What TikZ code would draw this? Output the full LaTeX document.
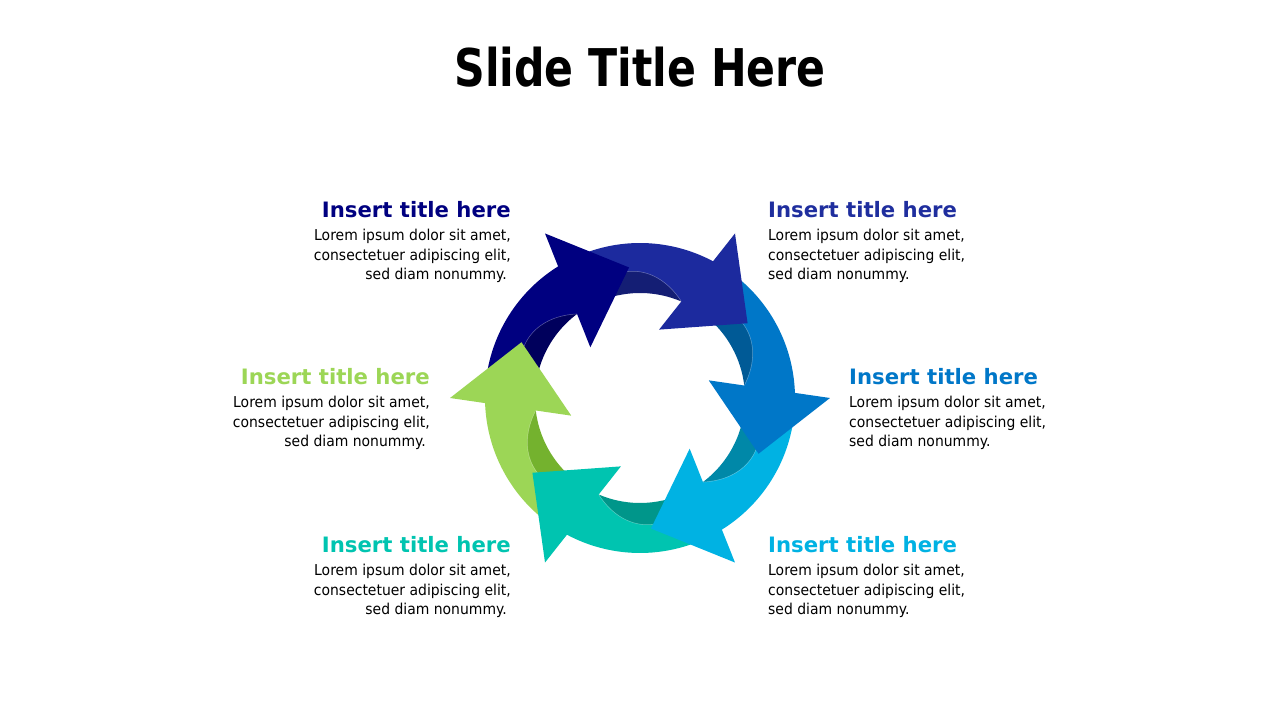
\documentclass[tikz,border=0pt]{standalone}
\usepackage{fontspec}
\newfontfamily\slidefont{DejaVu Sans}[FakeStretch=0.82]
\newfontfamily\headfont{DejaVu Sans}
\newfontfamily\bodyfont{DejaVu Sans}[FakeStretch=0.93]
\definecolor{navyL}{HTML}{000080}\definecolor{navyD}{HTML}{00005C}
\definecolor{blueL}{HTML}{1C2A9E}\definecolor{blueD}{HTML}{141E74}
\definecolor{mblueL}{HTML}{0077C8}\definecolor{mblueD}{HTML}{005A96}
\definecolor{cyanL}{HTML}{00B2E3}\definecolor{cyanD}{HTML}{0088A8}
\definecolor{tealL}{HTML}{00C4B0}\definecolor{tealD}{HTML}{00968A}
\definecolor{greenL}{HTML}{9CD656}\definecolor{greenD}{HTML}{74B22E}
\definecolor{blueT}{HTML}{1F2E9E}
\newcommand\arrDark[2]{%
  \begin{scope}[shift={(640,322)},rotate=#1]
    \fill[#2] (32:105) arc[start angle=32,end angle=76,radius=105] -- (76:135)
      arc[start angle=76,end angle=32,radius=135] -- cycle;
  \end{scope}}
\newcommand\arrBand[2]{%
  \begin{scope}[shift={(640,322)},rotate=#1]
    \fill[#2] (25:155) arc[start angle=25,end angle=78,radius=155] -- (78:127)
      -- plot[domain=78:32,samples=40,variable=\t] (\t:{105+22*sin(min((\t-32)*3.2,90))})
      -- (25:105) -- cycle;
    \draw[white,opacity=.35,line width=.5pt] plot[domain=32:62,samples=30,variable=\t] (\t:{105+22*sin(min((\t-32)*3.2,90))});
  \end{scope}}
\newcommand\arrHead[2]{%
  \begin{scope}[shift={(640,322)},rotate=#1]
    \fill[#2] (0:131) -- (25.2:190) -- (39.6:71) -- cycle;
  \end{scope}}
\tikzset{
  headtxt/.style={font=\headfont\bfseries\fontsize{21.2}{25}\selectfont, inner sep=0pt},
  bodytxt/.style={font=\bodyfont\fontsize{15}{19}\selectfont, inner sep=0pt, text=black},
}
\begin{document}
\begin{tikzpicture}[x=1pt,y=1pt]
\fill[white] (0,0) rectangle (1280,720);
\useasboundingbox (0,0) rectangle (1280,720);
% title
\node[font=\slidefont\bfseries\fontsize{52}{60}\selectfont, inner sep=0pt, anchor=base] (title) at (640,633) {Slide Title Here};
% arrows: dark inner strips, bands, heads
\arrDark{94.8}{navyD}\arrDark{34.8}{blueD}\arrDark{-25.2}{mblueD}
\arrDark{-85.2}{cyanD}\arrDark{-145.2}{tealD}\arrDark{154.8}{greenD}
\arrBand{94.8}{navyL}\arrBand{34.8}{blueL}\arrBand{-25.2}{mblueL}
\arrBand{-85.2}{cyanL}\arrBand{-145.2}{tealL}\arrBand{154.8}{greenL}
\arrHead{94.8}{navyL}\arrHead{34.8}{blueL}\arrHead{-25.2}{mblueL}
\arrHead{-85.2}{cyanL}\arrHead{-145.2}{tealL}\arrHead{154.8}{greenL}
% top-left
\node[headtxt,text=navyL,anchor=base east] (h1) at (511,502) {Insert title here};
\node[bodytxt,anchor=base east] (a1) at (511,479) {Lorem ipsum dolor sit amet,};
\node[bodytxt,anchor=base east] (b1) at (511,459.5) {consectetuer adipiscing elit,};
\node[bodytxt,anchor=base east] (c1) at (507,440) {sed diam nonummy.};
% top-right
\node[headtxt,text=blueT,anchor=base west] (h2) at (768,502) {Insert title here};
\node[bodytxt,anchor=base west] (a2) at (768,479) {Lorem ipsum dolor sit amet,};
\node[bodytxt,anchor=base west] (b2) at (768,459.5) {consectetuer adipiscing elit,};
\node[bodytxt,anchor=base west] (c2) at (768,440) {sed diam nonummy.};
% left
\node[headtxt,text=greenL,anchor=base east] (h6) at (430,335) {Insert title here};
\node[bodytxt,anchor=base east] (a6) at (430,312) {Lorem ipsum dolor sit amet,};
\node[bodytxt,anchor=base east] (b6) at (430,292.5) {consectetuer adipiscing elit,};
\node[bodytxt,anchor=base east] (c6) at (426,273) {sed diam nonummy.};
% right
\node[headtxt,text=mblueL,anchor=base west] (h3) at (849,335) {Insert title here};
\node[bodytxt,anchor=base west] (a3) at (849,312) {Lorem ipsum dolor sit amet,};
\node[bodytxt,anchor=base west] (b3) at (849,292.5) {consectetuer adipiscing elit,};
\node[bodytxt,anchor=base west] (c3) at (849,273) {sed diam nonummy.};
% bottom-left
\node[headtxt,text=tealL,anchor=base east] (h5) at (511,167) {Insert title here};
\node[bodytxt,anchor=base east] (a5) at (511,144) {Lorem ipsum dolor sit amet,};
\node[bodytxt,anchor=base east] (b5) at (511,124.5) {consectetuer adipiscing elit,};
\node[bodytxt,anchor=base east] (c5) at (507,105) {sed diam nonummy.};
% bottom-right
\node[headtxt,text=cyanL,anchor=base west] (h4) at (768,167) {Insert title here};
\node[bodytxt,anchor=base west] (a4) at (768,144) {Lorem ipsum dolor sit amet,};
\node[bodytxt,anchor=base west] (b4) at (768,124.5) {consectetuer adipiscing elit,};
\node[bodytxt,anchor=base west] (c4) at (768,105) {sed diam nonummy.};
\end{tikzpicture}
\end{document}
